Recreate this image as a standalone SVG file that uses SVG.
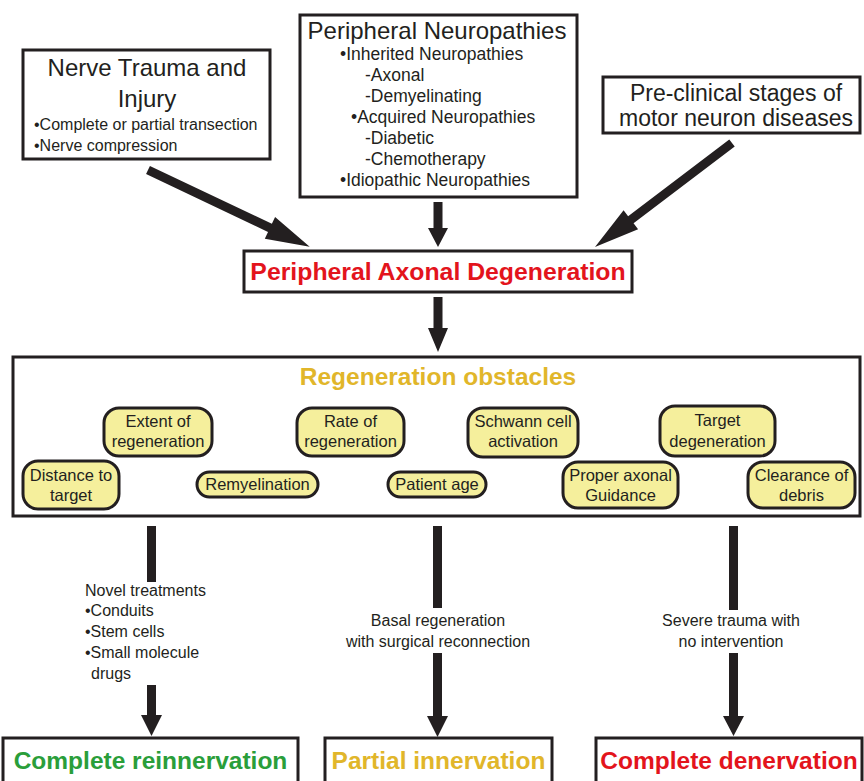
<svg xmlns="http://www.w3.org/2000/svg" width="864" height="781" viewBox="0 0 864 781">
<style>
.box{fill:#fff;stroke:#231f20;stroke-width:3}
.pill{fill:#f5ef9c;stroke:#231f20;stroke-width:3}
.t{font-family:"Liberation Sans",Arial,sans-serif;fill:#231f20}
.big{font-size:24px}
.mid{font-size:17.5px}
.sm{font-size:16px}
.pt{font-size:16.5px;text-anchor:middle}
.c{text-anchor:middle}
.b{font-weight:bold;font-size:24.5px;text-anchor:middle}
.arr{fill:#231f20}
</style>
<rect width="864" height="781" fill="#fff"/>

<g id="connectors">
<polygon class="arr" transform="translate(148,170) rotate(25.4)" points="0,-4.5 135,-4.5 135,-12 179,0 135,12 135,4.5 0,4.5"/>
<polygon class="arr" transform="translate(732,143) rotate(142.8)" points="0,-4.5 127,-4.5 127,-12 172,0 127,12 127,4.5 0,4.5"/>
<polygon class="arr" points="433.5,202 442.5,202 442.5,228 448,228 438,247 428,228 433.5,228"/>
<polygon class="arr" points="433.5,297 442.5,297 442.5,328 448,328 438,352 428,328 433.5,328"/>
<rect class="arr" x="147" y="526" width="9" height="56"/>
<polygon class="arr" points="147,685 156,685 156,715 162,715 151.5,736 141,715 147,715"/>
<rect class="arr" x="433" y="526" width="9" height="82"/>
<polygon class="arr" points="433,653 442,653 442,716 448,716 437.5,737 427,716 433,716"/>
<rect class="arr" x="729" y="526" width="9" height="84"/>
<polygon class="arr" points="729,653 738,653 738,716 744,716 733.5,736 723,716 729,716"/>
<text class="t sm" x="85" y="596">Novel treatments</text>
<text class="t sm" x="85" y="616">•Conduits</text>
<text class="t sm" x="85" y="637">•Stem cells</text>
<text class="t sm" x="85" y="658">•Small molecule</text>
<text class="t sm" x="91" y="679">drugs</text>
<text class="t sm c" x="438" y="626">Basal regeneration</text>
<text class="t sm c" x="438" y="647">with surgical reconnection</text>
<text class="t sm c" x="731" y="626">Severe trauma with</text>
<text class="t sm c" x="731" y="647">no intervention</text>
</g>

<g id="nerve-trauma">
<rect class="box" x="23" y="50" width="247" height="109"/>
<text class="t big c" x="147" y="76">Nerve Trauma and</text>
<text class="t big c" x="147" y="107">Injury</text>
<text class="t sm" x="34" y="130">•Complete or partial transection</text>
<text class="t sm" x="34" y="151">•Nerve compression</text>
</g>

<g id="peripheral-neuropathies">
<rect class="box" x="300" y="15" width="277" height="182"/>
<text class="t big c" x="437" y="39">Peripheral Neuropathies</text>
<text class="t mid" x="340" y="60">•Inherited Neuropathies</text>
<text class="t mid" x="365" y="81">-Axonal</text>
<text class="t mid" x="365" y="102">-Demyelinating</text>
<text class="t mid" x="351" y="123">•Acquired Neuropathies</text>
<text class="t mid" x="365" y="144">-Diabetic</text>
<text class="t mid" x="365" y="165">-Chemotherapy</text>
<text class="t mid" x="340" y="186">•Idiopathic Neuropathies</text>
</g>

<g id="preclinical">
<rect class="box" x="603" y="77" width="257" height="56"/>
<text class="t c" x="736" y="101" style="font-size:23px">Pre-clinical stages of</text>
<text class="t c" x="736" y="126" style="font-size:23px">motor neuron diseases</text>
</g>

<g id="axonal-degeneration">
<rect class="box" x="244" y="251" width="388" height="41"/>
<text class="t b" x="438" y="280" style="fill:#e3141c;font-size:24.8px">Peripheral Axonal Degeneration</text>
</g>

<g id="regeneration-obstacles">
<rect class="box" x="13" y="357" width="847" height="159"/>
<text class="t b" x="438" y="385" style="fill:#e1b62a;font-size:24.5px">Regeneration obstacles</text>
</g>

<g id="extent">
<rect class="pill" x="104" y="408" width="108" height="48" rx="15"/>
<text class="t pt" x="158" y="427">Extent of</text>
<text class="t pt" x="158" y="447">regeneration</text>
</g>
<g id="rate">
<rect class="pill" x="297" y="408" width="107" height="48" rx="15"/>
<text class="t pt" x="350.5" y="427">Rate of</text>
<text class="t pt" x="350.5" y="447">regeneration</text>
</g>
<g id="schwann">
<rect class="pill" x="468" y="408" width="110" height="49" rx="15"/>
<text class="t pt" x="523" y="427">Schwann cell</text>
<text class="t pt" x="523" y="447">activation</text>
</g>
<g id="target">
<rect class="pill" x="660" y="406" width="115" height="50" rx="15"/>
<text class="t pt" x="717.5" y="426">Target</text>
<text class="t pt" x="717.5" y="447">degeneration</text>
</g>
<g id="distance">
<rect class="pill" x="23" y="461" width="96" height="48" rx="15"/>
<text class="t pt" x="71" y="481">Distance to</text>
<text class="t pt" x="71" y="501">target</text>
</g>
<g id="remyelination">
<rect class="pill" x="197" y="472" width="121" height="25" rx="12.5"/>
<text class="t pt" x="257.5" y="490">Remyelination</text>
</g>
<g id="patient-age">
<rect class="pill" x="388" y="472" width="98" height="25" rx="12.5"/>
<text class="t pt" x="437" y="490">Patient age</text>
</g>
<g id="guidance">
<rect class="pill" x="563" y="462" width="115" height="46" rx="15"/>
<text class="t pt" x="620.5" y="481">Proper axonal</text>
<text class="t pt" x="620.5" y="501">Guidance</text>
</g>
<g id="clearance">
<rect class="pill" x="748" y="462" width="107" height="46" rx="15"/>
<text class="t pt" x="801.5" y="481">Clearance of</text>
<text class="t pt" x="801.5" y="501">debris</text>
</g>

<g id="complete-reinnervation">
<rect class="box" x="3" y="738" width="295" height="60"/>
<text class="t b" x="150.5" y="769" style="fill:#2a9e3a">Complete reinnervation</text>
</g>
<g id="partial-innervation">
<rect class="box" x="325" y="738" width="227" height="60"/>
<text class="t b" x="438.5" y="769" style="fill:#e1b62a">Partial innervation</text>
</g>
<g id="complete-denervation">
<rect class="box" x="596" y="738" width="266" height="60"/>
<text class="t b" x="729" y="769" style="fill:#e3141c">Complete denervation</text>
</g>
</svg>
